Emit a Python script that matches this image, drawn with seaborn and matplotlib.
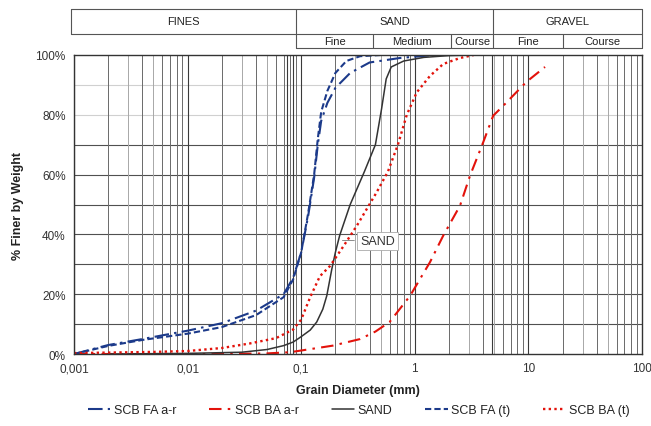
import numpy as np
import pandas as pd
import matplotlib
matplotlib.use("Agg")
import matplotlib.pyplot as plt
import seaborn as sns

# curvas granulometricas (diametro en mm, % que pasa)
fa_ar_x = [0.001, 0.002, 0.004, 0.01, 0.02, 0.04, 0.07, 0.085, 0.1, 0.115, 0.13, 0.14, 0.15, 0.17, 0.2, 0.27, 0.4, 0.74, 1.5]
fa_ar_y = [0, 3.0, 5.0, 7.8, 10.3, 14.5, 20, 25.5, 34, 46, 59, 70, 78, 84, 89, 94, 97.5, 99, 100]

ba_ar_x = [0.001, 0.02, 0.05, 0.08, 0.19, 0.33, 0.45, 0.6, 0.91, 1.36, 1.78, 2.5, 3.06, 4.0, 4.9, 6.0, 9.6, 14]
ba_ar_y = [0, 0, 0.2, 0.6, 2.8, 5, 7.5, 10.7, 19.5, 30.7, 39.6, 49.6, 59.6, 70.8, 79.7, 83, 91, 96]

sand_x = [0.002, 0.01, 0.03, 0.05, 0.07, 0.085, 0.1, 0.12, 0.137, 0.155, 0.168, 0.186, 0.2, 0.218, 0.27, 0.36, 0.45, 0.51, 0.56, 0.62, 0.8, 1.2, 2.0, 3.3]
sand_y = [0, 0.2, 0.6, 1.5, 2.8, 4, 5.8, 8, 10.7, 15, 19.5, 28.4, 34, 39.6, 50, 61, 70, 82, 92, 96, 98, 99.2, 99.8, 100]

fa_t_x = [0.001, 0.002, 0.004, 0.01, 0.02, 0.04, 0.07, 0.085, 0.1, 0.115, 0.13, 0.14, 0.15, 0.17, 0.2, 0.25, 0.33, 0.5]
fa_t_y = [0, 2.7, 4.7, 6.8, 9.0, 13, 19, 25, 34, 47, 60, 72, 81, 88, 94, 98, 99.6, 100]

ba_t_x = [0.001, 0.005, 0.01, 0.02, 0.035, 0.06, 0.085, 0.1, 0.12, 0.146, 0.18, 0.235, 0.31, 0.46, 0.58, 0.71, 0.85, 1.04, 1.36, 1.78, 2.5, 3.3]
ba_t_y = [0.3, 0.7, 1.0, 2.0, 3.5, 5.3, 8.2, 11.5, 19, 26, 29.5, 36, 43, 54, 61, 70, 80, 87.5, 93, 97, 99, 100]

# encabezado de clasificacion (limites en mm)
hdr_top = ["FINES", "SAND", "GRAVEL"]
hdr_top_lims = [0.00094, 0.09, 4.9, 100]
hdr_sub = ["Fine", "Medium", "Course", "Fine", "Course"]
hdr_sub_lims = [0.09, 0.43, 2.1, 4.9, 20, 100]

xticks = [0.001, 0.01, 0.1, 1, 10, 100]
xtick_labels = ["0,001", "0,01", "0,1", "1", "10", "100"]
yticks = [0, 20, 40, 60, 80, 100]

sns.set_style("white")
plt.rcParams["font.family"] = ["Liberation Sans", "DejaVu Sans"]

blue = "#1c3a8a"
red = "#e3120b"

fig = plt.figure(figsize=(6.51, 4.27), dpi=100)
ax = fig.add_axes([74 / 651, 1 - 355 / 427, 568 / 651, 299 / 427])

# grilla
for v in range(10, 100, 10):
    c = "#d0d0d0" if v >= 80 else "#505050"
    ax.axhline(v, color=c, lw=0.8, zorder=0)
for d in [0.001, 0.01, 0.1, 1, 10]:
    for m in range(2, 10):
        c = "#6a6a6a" if m in (2, 4, 6, 7, 8, 9) else "#a8a8a8"
        ax.axvline(d * m, color=c, lw=0.7, zorder=0)
    ax.axvline(d, color="#3a3a3a", lw=0.8, zorder=0)
for s in [0.075, 0.085, 4.75]:
    ax.axvline(s, color="#3a3a3a", lw=0.8, zorder=0)

series = [
    ("SCB FA a-r", fa_ar_x, fa_ar_y, blue, (0, (7, 2.5, 1.2, 2.5)), 1.5),
    ("SCB BA a-r", ba_ar_x, ba_ar_y, red, (0, (6, 3, 1.2, 3)), 1.5),
    ("SAND", sand_x, sand_y, "#333333", "-", 1.1),
    ("SCB FA (t)", fa_t_x, fa_t_y, blue, (0, (3, 1.5)), 1.5),
    ("SCB BA (t)", ba_t_x, ba_t_y, red, (0, (1, 1.4)), 1.7),
]
for name, xs, ys, col, ls, lw in series:
    df = pd.DataFrame({"x": xs, "y": ys})
    sns.lineplot(data=df, x="x", y="y", ax=ax, color=col, linestyle=ls,
                 lw=lw, label=name, estimator=None, legend=False)

ax.set_xscale("log")
ax.set_xlim(0.001, 100)
ax.set_ylim(0, 100)
ax.set_xticks(xticks)
ax.set_xticklabels(xtick_labels)
ax.xaxis.set_minor_locator(matplotlib.ticker.NullLocator())
ax.set_yticks(yticks)
ax.set_yticklabels([f"{v}%" for v in yticks])
ax.tick_params(axis="both", direction="out", length=4, width=0.8, color="#333333",
               labelsize=8.5, labelcolor="#333333", pad=2)
for sp in ax.spines.values():
    sp.set_color("#333333")
    sp.set_linewidth(1.0)
ax.set_xlabel("Grain Diameter (mm)", fontsize=9, fontweight="bold", color="#222222", labelpad=7)
ax.set_ylabel("% Finer by Weight", fontsize=9, fontweight="bold", color="#222222", labelpad=8)

ax.annotate("SAND", xy=(0.218, 38), xytext=(0.474, 37.8), fontsize=9, color="#333333",
            ha="center", va="center",
            bbox=dict(boxstyle="square,pad=0.25", fc="white", ec="#aaaaaa", lw=0.6),
            arrowprops=dict(arrowstyle="-", color="#777777", lw=0.6))

# encabezado
hdr = fig.add_axes([74 / 651, 1 - 49 / 427, 568 / 651, 39 / 427])
hdr.set_xscale("log")
hdr.set_xlim(0.001, 100)
hdr.set_ylim(0, 1)
hdr.axis("off")
mid = 0.36
lc = "#555555"
kw = dict(color=lc, lw=0.8, clip_on=False)
hdr.plot([hdr_top_lims[0], hdr_top_lims[-1]], [1, 1], **kw)
hdr.plot([hdr_top_lims[0], hdr_top_lims[-1]], [mid, mid], **kw)
for i, b in enumerate(hdr_top_lims):
    hdr.plot([b, b], [mid, 1], **kw)
for i, name in enumerate(hdr_top):
    xc = np.sqrt(hdr_top_lims[i] * hdr_top_lims[i + 1])
    hdr.text(xc, (1 + mid) / 2, name, ha="center", va="center", fontsize=8, color="#222222")
hdr.plot([hdr_sub_lims[0], hdr_sub_lims[-1]], [0, 0], **kw)
for b in hdr_sub_lims:
    hdr.plot([b, b], [0, mid], **kw)
for i, name in enumerate(hdr_sub):
    xc = np.sqrt(hdr_sub_lims[i] * hdr_sub_lims[i + 1])
    hdr.text(xc, mid / 2, name, ha="center", va="center", fontsize=8, color="#222222")

handles, labels = ax.get_legend_handles_labels()
fig.legend(handles, labels, loc="center", bbox_to_anchor=(0.551, 0.037), ncol=5,
           frameon=False, fontsize=9, handlelength=1.8, handletextpad=0.3,
           columnspacing=2.6, labelcolor="#222222")

fig.savefig("out.png", dpi=100)
